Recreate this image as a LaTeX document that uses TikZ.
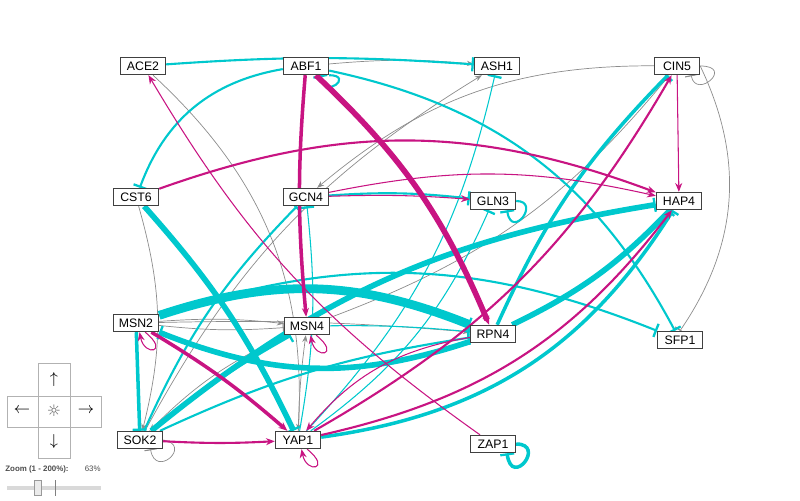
\documentclass[tikz,border=0pt]{standalone}
\usepackage{fontspec}
\setmainfont{Liberation Sans}
\usetikzlibrary{arrows.meta,calc}
\definecolor{actc}{RGB}{200,20,130}
\definecolor{inhc}{RGB}{0,200,205}
\definecolor{neuc}{RGB}{140,140,140}
\tikzset{
  gene/.style={rectangle, draw=black!75, thick, fill=white, minimum width=0.9cm, minimum height=0.34cm, inner sep=1pt, font=\scriptsize},
  actarr/.style={draw=actc, arrows={-Stealth[length=5pt,width=4pt]}},
  inhbar/.style={draw=inhc, arrows={-Rectangle[length=1.3pt,width=8pt,fill=inhc]}},
  neuarr/.style={draw=neuc, thin, arrows={-Stealth[length=4pt,width=3pt]}},
  neubar/.style={draw=neuc, thin, arrows={-Rectangle[length=0.6pt,width=7pt,fill=neuc]}},
  w1/.style={line width=0.6pt}, w2/.style={line width=1.2pt},
  w3/.style={line width=2pt}, w4/.style={line width=3.2pt}, w5/.style={line width=5pt}
}
\begin{document}
\begin{tikzpicture}[x=0.02cm, y=-0.02cm]
  \useasboundingbox (0,0) rectangle (800,500);
  % genes
  \node[gene] (ace2) at (143,66) {ACE2};
  \node[gene] (abf1) at (306,66) {ABF1};
  \node[gene] (ash1) at (497,66) {ASH1};
  \node[gene] (cin5) at (677,66) {CIN5};
  \node[gene] (cst6) at (136,197) {CST6};
  \node[gene] (gcn4) at (306,197) {GCN4};
  \node[gene] (gln3) at (493,201) {GLN3};
  \node[gene] (hap4) at (679,201) {HAP4};
  \node[gene] (msn2) at (136,323) {MSN2};
  \node[gene] (msn4) at (307,326) {MSN4};
  \node[gene] (rpn4) at (493,334) {RPN4};
  \node[gene] (sfp1) at (680,340) {SFP1};
  \node[gene] (sok2) at (140,440) {SOK2};
  \node[gene] (yap1) at (298,440) {YAP1};
  \node[gene] (zap1) at (493,444) {ZAP1};

  % grey edges
  \draw[neuarr] (abf1) to[bend left=5] (ash1);
  \draw[neuarr] (ace2) to[bend left=25] (yap1);
  \draw[neuarr] (cst6) to[bend left=15] (sok2);
  \draw[neuarr] (cin5) to[bend right=20] (gcn4);
  \draw[neuarr] (msn4) to[bend right=15] (cin5);
  \draw[neuarr] (sok2) to[bend left=15] (ash1);
  \draw[neuarr] (msn4) to[bend right=10] (sok2);
  \draw[neuarr] (msn2) to[bend left=5] (msn4);
  \draw[neubar] (msn2) to[bend right=5] (msn4);
  \draw[neuarr] (msn2) to[bend left=3] (rpn4);
  \draw[neubar] (cin5.east) to[bend left=30] (sfp1.north);
  \draw[neubar] (cin5.east) .. controls +(35,0) and +(5,25) .. ([xshift=8pt]cin5.south);
  \draw[neubar] (sok2.east) .. controls +(30,5) and +(5,30) .. ([xshift=6pt]sok2.south);
  \draw[neuarr] (yap1) to[bend left=3] (msn4);
  % inhibitions
  \draw[inhbar, w2] (ace2) to[bend left=4] (ash1);
  \draw[inhbar, w2] (abf1) to[bend right=30] (cst6);
  \draw[inhbar, w2] (abf1) to[bend left=25] (sfp1);
  \draw[inhbar, w2] (abf1.south east) .. controls +(25,0) and +(5,25) .. ([xshift=8pt]abf1.south);
  \draw[inhbar, w1] (yap1) to[bend right=15] (ash1);
  \draw[inhbar, w2] (gcn4) to[bend left=5] (gln3);
  \draw[inhbar, w2] (gln3.east) .. controls +(25,0) and +(5,30) .. ([xshift=8pt]gln3.south);
  \draw[inhbar, w3] (zap1.east) .. controls +(30,0) and +(5,35) .. ([xshift=8pt]zap1.south);
  \draw[inhbar, w4] (cst6) to[bend left=8] (yap1);
  \draw[inhbar, w2] (msn2) to[bend left=20] (sfp1);
  \draw[inhbar, w5] (msn2) to[bend left=20] (rpn4);
  \draw[inhbar, w4] (rpn4) to[bend left=20] (msn2);
  \draw[inhbar, w3] (msn2) -- (sok2);
  \draw[inhbar, w1] (msn4) to[bend left=3] (rpn4);
  \draw[inhbar, w2] (sok2) to[bend left=10] (gcn4);
  \draw[inhbar, w3] (sok2) to[bend left=5] (msn4);
  \draw[inhbar, w2] (sok2) to[bend left=8] (rpn4);
  \draw[inhbar, w4] (sok2) to[bend left=15] (hap4);
  \draw[inhbar, w1] (yap1) to[bend right=8] (gcn4);
  \draw[inhbar, w3] (yap1) to[bend right=25] (hap4);
  \draw[inhbar, w3] (rpn4) to[bend left=10] (cin5);
  \draw[inhbar, w4] (rpn4) to[bend right=10] (hap4);
  \draw[inhbar, w1] (yap1) to[bend right=15] (gln3);
  % activations
  \draw[actarr, w3] (abf1) to[bend right=5] (msn4);
  \draw[actarr, w4] (abf1) to[bend left=12] (rpn4);
  \draw[actarr, w2] (cst6) to[bend left=20] (hap4);
  \draw[actarr, w1] (zap1) to[bend left=12] (ace2);
  \draw[actarr, w1] (gcn4) to[bend left=3] (gln3);
  \draw[actarr, w1] (gcn4) to[bend left=12] (hap4);
  \draw[actarr, w1] (cin5) -- (hap4);
  \draw[actarr, w2] (yap1) to[bend right=15] (cin5);
  \draw[actarr, w2] (yap1) to[bend right=20] (hap4);
  \draw[actarr, w3] (msn2) to[bend left=5] (yap1);
  \draw[actarr, w2] (sok2) to[bend right=3] (yap1);
  \draw[actarr, w1] (rpn4) to[bend right=20] (yap1);
  \draw[actarr, w1] ([xshift=-8pt]msn2.south east) .. controls +(25,20) and +(5,25) .. ([xshift=2pt]msn2.south);
  \draw[actarr, w1] ([xshift=-8pt]msn4.south east) .. controls +(25,20) and +(5,25) .. ([xshift=2pt]msn4.south);
  \draw[actarr, w1] ([xshift=-8pt]yap1.south east) .. controls +(25,20) and +(5,25) .. ([xshift=2pt]yap1.south);
  % redraw genes on top
  \foreach \g/\t in {ace2/ACE2,abf1/ABF1,ash1/ASH1,cin5/CIN5,cst6/CST6,gcn4/GCN4,gln3/GLN3,hap4/HAP4,msn2/MSN2,msn4/MSN4,rpn4/RPN4,sfp1/SFP1,sok2/SOK2,yap1/YAP1,zap1/ZAP1}
    \node[gene] at (\g) {\t};

  % navigation widget
  \draw[black!30] (38,363) rectangle (70,396) (38,396) rectangle (70,427)
    (7,396) rectangle (38,427) (70,396) rectangle (101,427) (38,427) rectangle (70,458);
  \node[font=\small] (nup) at (54,380) {$\uparrow$};
  \node[font=\small] (ndown) at (54,442) {$\downarrow$};
  \node[font=\small] (nleft) at (22,411) {$\leftarrow$};
  \node[font=\small] (nright) at (86,411) {$\rightarrow$};
  \node[font=\small, text=black!60] (nsun) at (54,411) {\fontspec{DejaVu Sans}☼};
  \node[font=\fontsize{4.5}{5}\selectfont\bfseries, anchor=west, text=black!70, inner sep=0pt] (zlab) at (5,469) {Zoom (1 - 200\%):};
  \node[font=\fontsize{4.5}{5}\selectfont, anchor=east, text=black!70, inner sep=0pt] (zval) at (101,469) {63\%};
  \draw[black!15, line width=2pt] (7,488) -- (101,488);
  \draw[black!50] (55,480) -- (55,496);
  \node[draw=black!40, fill=black!8, minimum width=0.14cm, minimum height=0.3cm, inner sep=0pt] (handle) at (38,488) {};
\end{tikzpicture}
\end{document}
